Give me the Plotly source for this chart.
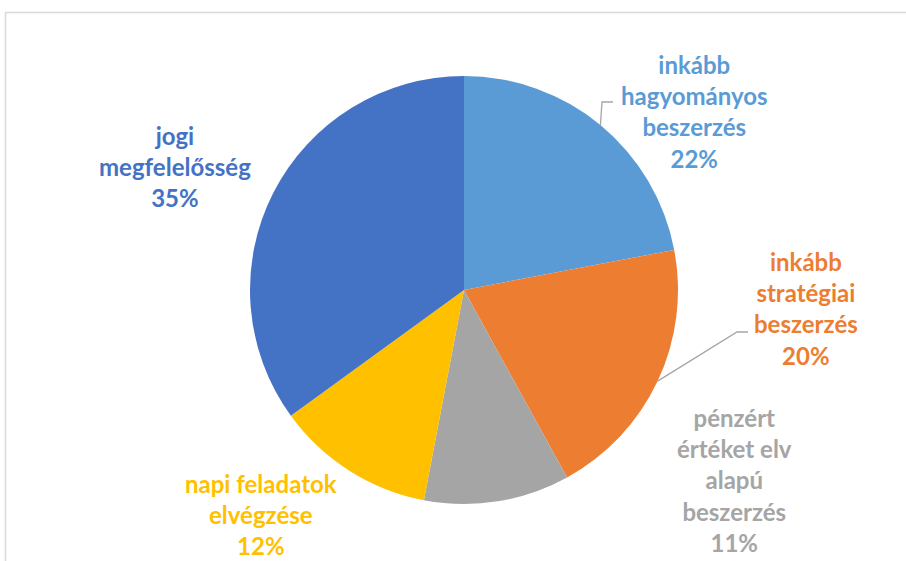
import numpy as np
import plotly.graph_objects as go

W, H = 906, 561

# slice data, clockwise from 12 o'clock
labels = ["inkább hagyományos beszerzés", "inkább stratégiai beszerzés",
          "pénzért értéket elv alapú beszerzés", "napi feladatok elvégzése",
          "jogi megfelelősség"]
values = [22, 20, 11, 12, 35]
label_lines = [["inkább", "hagyományos", "beszerzés"],
               ["inkább", "stratégiai", "beszerzés"],
               ["pénzért", "értéket elv", "alapú", "beszerzés"],
               ["napi feladatok", "elvégzése"],
               ["jogi", "megfelelősség"]]
colors = ["#5B9BD5", "#ED7D31", "#A5A5A5", "#FFC000", "#4472C4"]

# pie geometry in pixels
cx, cy, r = 464, 290, 214
# label centres (pixels) and leader-line elbows (None = no leader)
label_pos = [(694, 111), (806, 308), (734, 480), (261, 514), (175, 166)]
elbows = [[(602, 102), (613, 102)], [(737, 332), (748, 332)], None, None, None]

FONT = "Lato, Calibri, Arial, sans-serif"

fig = go.Figure()
fig.add_trace(go.Pie(
    labels=labels,
    values=values,
    sort=False,
    direction="clockwise",
    rotation=0,
    marker=dict(colors=colors, line=dict(width=0)),
    textinfo="none",
    hoverinfo="label+percent",
    showlegend=False,
    domain=dict(x=[(cx - r) / W, (cx + r) / W],
                y=[(H - cy - r) / H, (H - cy + r) / H]),
))


def px(x, y):
    return x / W, 1 - y / H


annotations = []
shapes = []
total = sum(values)
cum = 0
for i, v in enumerate(values):
    pct = round(100 * v / total)
    text = "<b>" + "<br>".join(label_lines[i] + [f"{pct}%"]) + "</b>"
    lx, ly = px(*label_pos[i])
    annotations.append(dict(
        x=lx, y=ly, xref="paper", yref="paper", text=text,
        showarrow=False, align="center", xanchor="center", yanchor="middle",
        font=dict(family=FONT, size=24, color=colors[i]),
    ))
    mid = 2 * np.pi * (cum + v / 2) / total
    if elbows[i] is not None:
        sx = cx + r * np.sin(mid)
        sy = cy - r * np.cos(mid)
        pts = [(sx, sy)] + elbows[i]
        path = "M " + " L ".join(f"{a / W},{1 - b / H}" for a, b in pts)
        shapes.append(dict(type="path", xref="paper", yref="paper", path=path,
                           line=dict(color="#A6A6A6", width=1.3)))
    cum += v

# chart-area border (cut off at right and bottom)
shapes.append(dict(type="rect", xref="paper", yref="paper",
                   x0=5.5 / W, x1=1.2, y0=-0.2, y1=1 - 12.5 / H,
                   line=dict(color="#D9D9D9", width=1.5), layer="below"))

fig.update_layout(
    width=W, height=H,
    margin=dict(l=0, r=0, t=0, b=0),
    paper_bgcolor="white",
    plot_bgcolor="white",
    annotations=annotations,
    shapes=shapes,
)

fig.write_html("out.html", config={"displayModeBar": False},
               post_script="document.body.style.margin='0';")
